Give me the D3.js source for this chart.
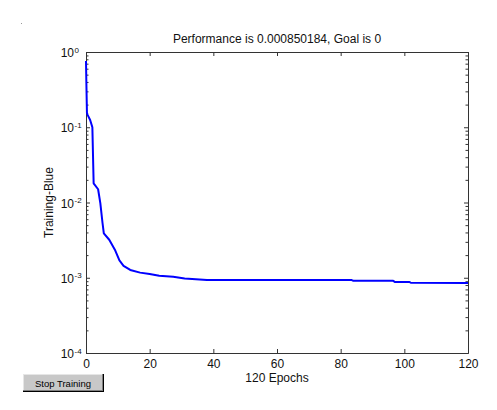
<!DOCTYPE html>
<html>
<head>
<meta charset="utf-8">
<script src="https://cdn.jsdelivr.net/npm/d3@7"></script>
<style>
  html, body { margin: 0; padding: 0; background: #fff; }
  svg { display: block; font-family: Arial, "Liberation Sans", sans-serif; }
</style>
</head>
<body>
<svg id="chart" width="497" height="410"></svg>
<script>
// ---- data ----
const epochs = [0, 0.1, 0.3, 0.5, 1.3, 2, 2.4, 3.8, 4.5, 5.2, 5.6, 7.3, 9.2, 10.5, 11.8, 13.9, 17, 20, 23, 27.4, 31, 38, 83.5, 84, 96.5, 97, 101.5, 102, 120];
const performance = [0.76, 0.42, 0.155, 0.146, 0.125, 0.10, 0.018, 0.015, 0.0098, 0.0053, 0.0039, 0.0032, 0.0023, 0.0017, 0.00144, 0.00127, 0.00117, 0.00112, 0.00106, 0.00103, 0.00098, 0.00093, 0.00093, 0.00091, 0.00091, 0.00088, 0.00088, 0.00086, 0.00085];
const xTicks = [0, 20, 40, 60, 80, 100, 120];
const yDecades = [-4, -3, -2, -1, 0];
const titleText = "Performance is 0.000850184, Goal is 0";
const xLabelText = "120 Epochs";
const yLabelText = "Training-Blue";
const buttonText = "Stop Training";

(function () {
// ---- layout ----
const svg = d3.select("#chart");
const pLeft = 86, pRight = 468, pTop = 52, pBottom = 353;
const axisColor = "#333";

const x = d3.scaleLinear().domain([0, 120]).range([pLeft, pRight]);
const y = d3.scaleLog().domain([1e-4, 1]).range([pBottom, pTop]);

const majorY = yDecades.map(e => Math.pow(10, e));
const minorY = [];
yDecades.slice(0, -1).forEach(e => { for (let k = 2; k <= 9; k++) minorY.push(k * Math.pow(10, e)); });

function styleAxis(g) {
  g.selectAll("path.domain").attr("stroke", axisColor);
  g.selectAll(".tick line").attr("stroke", axisColor);
  g.selectAll(".tick text").attr("fill", "#111").attr("font-size", 12)
    .attr("font-family", "Arial, 'Liberation Sans', sans-serif");
}

// bottom axis with labels
svg.append("g").attr("transform", `translate(0,${pBottom})`)
  .call(d3.axisBottom(x).tickValues(xTicks).tickSize(-4).tickSizeOuter(0).tickPadding(6).tickFormat(d3.format("d")))
  .call(styleAxis);
// top axis
svg.append("g").attr("transform", `translate(0,${pTop})`)
  .call(d3.axisTop(x).tickValues(xTicks).tickSize(-4).tickSizeOuter(0).tickFormat(""))
  .call(styleAxis);
// left axis major + minor
const leftMajor = svg.append("g").attr("transform", `translate(${pLeft},0)`)
  .call(d3.axisLeft(y).tickValues(majorY).tickSize(-4).tickSizeOuter(0).tickFormat(""))
  .call(styleAxis);
svg.append("g").attr("transform", `translate(${pLeft},0)`)
  .call(d3.axisLeft(y).tickValues(minorY).tickSize(-2.5).tickSizeOuter(0).tickFormat(""))
  .call(styleAxis);
// right axis major + minor
svg.append("g").attr("transform", `translate(${pRight},0)`)
  .call(d3.axisRight(y).tickValues(majorY).tickSize(-4).tickSizeOuter(0).tickFormat(""))
  .call(styleAxis);
svg.append("g").attr("transform", `translate(${pRight},0)`)
  .call(d3.axisRight(y).tickValues(minorY).tickSize(-2.5).tickSizeOuter(0).tickFormat(""))
  .call(styleAxis);

// y tick labels as 10^e
leftMajor.selectAll(".tick").each(function(d) {
  const g = d3.select(this);
  const e = Math.round(Math.log10(d));
  g.append("text").attr("x", -12).attr("y", 4.5).attr("text-anchor", "end")
    .attr("font-size", 12).attr("fill", "#111").text("10");
  g.append("text").attr("x", -11.5).attr("y", 0).attr("text-anchor", "start")
    .attr("font-size", 8).attr("fill", "#111").text(String(e));
});

// line
const line = d3.line().x((d, i) => x(epochs[i])).y(d => y(d));
svg.append("path").datum(performance)
  .attr("d", line).attr("fill", "none").attr("stroke", "#0000ff")
  .attr("stroke-width", 2).attr("stroke-linejoin", "round");

// title & labels
svg.append("text").attr("x", (pLeft + pRight) / 2).attr("y", 43).attr("text-anchor", "middle")
  .attr("font-size", 12).attr("fill", "#111").text(titleText);
svg.append("text").attr("x", (pLeft + pRight) / 2).attr("y", 382).attr("text-anchor", "middle")
  .attr("font-size", 12).attr("fill", "#111").text(xLabelText);
svg.append("text").attr("transform", `translate(53,${(pTop + pBottom) / 2}) rotate(-90)`)
  .attr("text-anchor", "middle").attr("font-size", 12).attr("fill", "#111").text(yLabelText);

// stray dot
svg.append("rect").attr("x", 21).attr("y", 23).attr("width", 1).attr("height", 1).attr("fill", "#999");

// Stop Training button
const b = svg.append("g");
b.append("rect").attr("x", 23).attr("y", 374).attr("width", 81).attr("height", 18).attr("fill", "#000");
b.append("rect").attr("x", 23).attr("y", 374).attr("width", 80).attr("height", 17).attr("fill", "#808080");
b.append("rect").attr("x", 23).attr("y", 374).attr("width", 79).attr("height", 16).attr("fill", "#e6e6e6");
b.append("rect").attr("x", 24).attr("y", 375).attr("width", 78).attr("height", 15).attr("fill", "#c8c8c8");
b.append("text").attr("x", 63).attr("y", 386.5).attr("text-anchor", "middle")
  .attr("font-size", 9.5).attr("fill", "#000").text(buttonText);
})();
</script>
</body>
</html>
